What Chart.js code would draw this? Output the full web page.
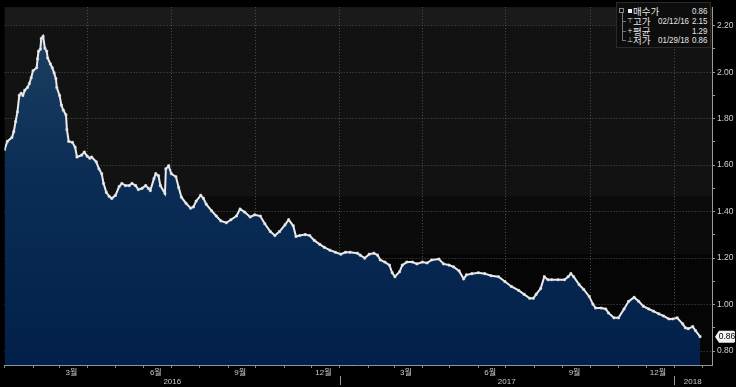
<!DOCTYPE html>
<html>
<head>
<meta charset="utf-8">
<script src="https://cdn.jsdelivr.net/npm/chart.js@4.4.0/dist/chart.umd.min.js"></script>
<style>
  html, body { margin: 0; padding: 0; background: #000; }
  #wrap { position: relative; width: 736px; height: 387px; }
  #legendBox {
    position: absolute; left: 616px; top: 2px; width: 95px; height: 46px;
    background: #0d0d0d; border: 1px solid #2a2a2a; box-sizing: border-box;
    font-family: "Liberation Sans", Arial, sans-serif;
    font-size: 9.5px; color: #e4e4e4;
  }
  .row { position: absolute; left: 0; right: 0; height: 10px; line-height: 10px; white-space: nowrap; }
  .sym { position: absolute; left: 10px; width: 6px; text-align: center; font-family: "DejaVu Sans", sans-serif; font-size: 7px; color: #ddd; }
  .name { position: absolute; left: 16px; top: 0; font-family: "Noto Sans CJK KR", sans-serif; font-size: 9.5px; line-height: 10px; }
  .date { position: absolute; left: 41px; transform: scaleX(0.84); transform-origin: left center; }
  .val { position: absolute; right: 3px; transform: scaleX(0.84); transform-origin: right center; }
  #treeV { position: absolute; left: 5px; top: 10px; width: 1px; height: 28px; background: #777; }
  .treeH { position: absolute; left: 5px; width: 4px; height: 1px; background: #777; }
  #boxIcon { position: absolute; left: 2px; top: 5px; width: 5px; height: 5px; border: 1px solid #888; box-sizing: border-box; }
  #fillIcon { position: absolute; left: 11px; top: 6px; width: 4px; height: 4px; background: #eee; }
</style>
</head>
<body>
<div id="wrap">
  <canvas id="rateChart" width="736" height="387"></canvas>
  <div id="legendBox">
    <div id="treeV"></div>
    <div class="treeH" style="top:18px"></div>
    <div class="treeH" style="top:28px"></div>
    <div class="treeH" style="top:37px"></div>
    <div id="boxIcon"></div>
    <div id="fillIcon"></div>
    <div class="row" style="top:3px"><span class="name">매수가</span><span class="val">0.86</span></div>
    <div class="row" style="top:13px"><span class="sym">⊤</span><span class="name">고가</span><span class="date">02/12/16</span><span class="val">2.15</span></div>
    <div class="row" style="top:23px"><span class="sym">+</span><span class="name">평균</span><span class="val">1.29</span></div>
    <div class="row" style="top:32px"><span class="sym">⊥</span><span class="name">저가</span><span class="date">01/29/18</span><span class="val">0.86</span></div>
  </div>
</div>
<script>
// days since 2016-01-01 and the value read for that day
const days = [0, 3, 8, 10, 12, 14, 16, 18, 20, 22, 25, 27, 29, 31, 35, 36, 37, 39, 40, 42,
  44, 46, 47, 50, 52, 54, 56, 57, 60, 62, 64, 67, 68, 70, 74, 77, 79, 84, 87, 90,
  93, 95, 100, 103, 106, 108, 111, 114, 117, 121, 125, 128, 132, 136, 139, 143, 146, 150, 154, 157,
  159, 163, 165, 168, 170, 175, 176, 179, 182, 187, 190, 193, 198, 203, 206, 209, 214, 217, 220, 226,
  231, 236, 242, 247, 253, 257, 262, 268, 273, 279, 284, 290, 295, 300, 306, 310, 315, 318, 322, 328,
  333, 338, 344, 349, 355, 361, 367, 372, 377, 385, 388, 393, 398, 403, 407, 410, 415, 420, 423, 426,
  431, 434, 439, 445, 450, 456, 461, 466, 474, 479, 485, 490, 496, 501, 504, 510, 517, 524, 531, 539,
  546, 553, 561, 567, 573, 577, 580, 585, 589, 593, 597, 604, 611, 615, 618, 621, 627, 632, 638, 642,
  645, 651, 656, 659, 665, 670, 676, 681, 687, 692, 697, 703, 708, 714, 719, 725, 729, 734, 740, 743,
  746, 751, 754, 759];
const values = [1.668, 1.702, 1.719, 1.744, 1.787, 1.829, 1.900, 1.909, 1.900, 1.922, 1.934, 1.951, 1.976, 2.006, 2.019, 2.057, 2.090, 2.099, 2.145, 2.154,
  2.103, 2.090, 2.061, 2.035, 2.019, 1.997, 1.972, 1.934, 1.900, 1.858, 1.837, 1.816, 1.753, 1.702, 1.698, 1.677, 1.635, 1.643, 1.656, 1.639,
  1.630, 1.635, 1.614, 1.584, 1.563, 1.521, 1.483, 1.466, 1.457, 1.470, 1.508, 1.521, 1.512, 1.512, 1.521, 1.512, 1.495, 1.500, 1.512, 1.500,
  1.491, 1.542, 1.563, 1.554, 1.512, 1.478, 1.584, 1.597, 1.563, 1.550, 1.504, 1.462, 1.436, 1.415, 1.420, 1.445, 1.470, 1.457, 1.432, 1.403,
  1.381, 1.360, 1.352, 1.365, 1.381, 1.411, 1.398, 1.377, 1.386, 1.381, 1.348, 1.314, 1.297, 1.314, 1.343, 1.365, 1.339, 1.293, 1.297, 1.301,
  1.297, 1.276, 1.259, 1.246, 1.234, 1.225, 1.217, 1.225, 1.225, 1.221, 1.213, 1.200, 1.217, 1.221, 1.213, 1.192, 1.183, 1.170, 1.137, 1.120,
  1.141, 1.170, 1.183, 1.183, 1.175, 1.183, 1.179, 1.192, 1.196, 1.175, 1.170, 1.162, 1.145, 1.111, 1.128, 1.133, 1.137, 1.133, 1.124, 1.120,
  1.099, 1.078, 1.061, 1.044, 1.027, 1.027, 1.044, 1.069, 1.120, 1.107, 1.107, 1.107, 1.107, 1.120, 1.133, 1.120, 1.086, 1.065, 1.035, 1.002,
  0.985, 0.985, 0.981, 0.964, 0.943, 0.943, 0.981, 1.014, 1.031, 1.014, 0.993, 0.981, 0.972, 0.960, 0.951, 0.938, 0.938, 0.943, 0.917, 0.900,
  0.896, 0.905, 0.888, 0.862];

// axis ticks
const yTicks = [0.8, 0.9, 1.0, 1.1, 1.2, 1.3, 1.4, 1.5, 1.6, 1.7, 1.8, 1.9, 2.0, 2.1, 2.2];
const monthStartDays = [0, 31, 60, 91, 121, 152, 182, 213, 244, 274, 305, 335, 366, 397, 425, 456, 486, 517, 547, 578, 609, 639, 670, 700, 731, 762];
const quarterStartDays = [91, 182, 274, 366, 456, 547, 639, 731];
const monthTickDays = [73, 165, 257, 348, 438, 530, 622, 713];
const monthTickLabels = ['3월', '6월', '9월', '12월', '3월', '6월', '9월', '12월'];
const yearTickDays = [183, 548, 751];
const yearTickLabels = ['2016', '2017', '2018'];
const yearStartDays = [366, 731];

const axisFont = "'Liberation Sans', 'Noto Sans CJK KR', sans-serif";

// bloomberg-ish stepped background
const bgPlugin = {
  id: 'bg',
  beforeDraw(chart) {
    const { ctx, chartArea: a } = chart;
    ctx.save();
    ctx.fillStyle = '#000';
    ctx.fillRect(0, 0, chart.width, chart.height);
    const h = a.bottom - a.top;
    const bands = [[0, 0.05, '#1a1a1a'], [0.05, 0.53, '#121212'], [0.53, 0.69, '#0b0b0b'], [0.69, 1, '#050505']];
    bands.forEach(b => {
      ctx.fillStyle = b[2];
      ctx.fillRect(a.left, a.top + b[0] * h, a.right - a.left, (b[1] - b[0]) * h);
    });
    ctx.restore();
  },
  afterDraw(chart) {
    const { ctx } = chart;
    const x2 = chart.scales.x2;
    const xs = chart.scales.x;
    const ys = chart.scales.y;
    ctx.save();
    // year dividers
    ctx.strokeStyle = '#9a9a9a';
    ctx.lineWidth = 1;
    yearStartDays.forEach(d => {
      const px = Math.round(x2.getPixelForValue(d)) + 0.5;
      ctx.beginPath();
      ctx.moveTo(px, xs.bottom - 1);
      ctx.lineTo(px, chart.height - 2);
      ctx.stroke();
    });
    // last value tag
    const last = values[values.length - 1];
    const py = ys.getPixelForValue(last);
    const left = ys.left + 3;
    ctx.fillStyle = '#f2f2f2';
    ctx.beginPath();
    ctx.moveTo(left, py);
    ctx.lineTo(left + 4, py - 6);
    ctx.lineTo(chart.width - 2, py - 6);
    ctx.lineTo(chart.width - 1, py - 5);
    ctx.lineTo(chart.width - 1, py + 5);
    ctx.lineTo(chart.width - 2, py + 6);
    ctx.lineTo(left + 4, py + 6);
    ctx.closePath();
    ctx.fill();
    ctx.fillStyle = '#000';
    ctx.font = '8.5px ' + axisFont;
    ctx.textAlign = 'center';
    ctx.textBaseline = 'middle';
    ctx.fillText(last.toFixed(2), (left + 4 + chart.width - 1) / 2, py + 0.5);
    ctx.restore();
  }
};

function makeChart() {
  const ctx = document.getElementById('rateChart').getContext('2d');

  new Chart(ctx, {
    type: 'line',
    data: {
      datasets: [{
        label: '매수가',
        data: days.map((d, i) => ({ x: d, y: values[i] })),
        borderColor: '#ececec',
        borderWidth: 2,
        tension: 0,
        fill: 'start',
        backgroundColor: function (context) {
          const area = context.chart.chartArea;
          if (!area) return '#0a2a52';
          const g = context.chart.ctx.createLinearGradient(0, area.top + 20, 0, area.bottom);
          g.addColorStop(0, '#1c3f62');
          g.addColorStop(0.45, '#0b2d55');
          g.addColorStop(1, '#02204a');
          return g;
        },
        pointStyle: 'rect',
        pointRadius: 1.5,
        pointBackgroundColor: '#ffffff',
        pointBorderColor: '#cfcfcf',
        pointBorderWidth: 0.6,
      }],
    },
    options: {
      responsive: false,
      animation: false,
      layout: { padding: 0 },
      plugins: { legend: { display: false }, tooltip: { enabled: false } },
      scales: {
        x: {
          type: 'linear',
          position: 'bottom',
          weight: 0,
          min: 0,
          max: 772,
          afterBuildTicks: scale => {
            const all = monthStartDays.concat(monthTickDays).sort((a, b) => a - b);
            scale.ticks = all.map(v => ({ value: v }));
          },
          afterFit: scale => { scale.height = 12; },
          grid: {
            color: c => (c.tick && quarterStartDays.includes(c.tick.value)) ? '#505050' : 'rgba(0,0,0,0)',
            tickColor: c => (c.tick && monthStartDays.includes(c.tick.value)) ? '#8a8a8a' : 'rgba(0,0,0,0)',
            tickLength: 3,
            lineWidth: 1,
          },
          border: { color: '#8c96a3', width: 1, dash: [1, 2] },
          ticks: {
            autoSkip: false,
            maxRotation: 0,
            padding: 0,
            color: '#c8c8c8',
            font: { family: axisFont, size: 8 },
            callback: v => {
              const i = monthTickDays.indexOf(v);
              return i >= 0 ? monthTickLabels[i] : '';
            },
          },
        },
        x2: {
          type: 'linear',
          position: 'bottom',
          weight: 1,
          min: 0,
          max: 772,
          afterBuildTicks: scale => {
            scale.ticks = yearTickDays.map(v => ({ value: v }));
          },
          afterFit: scale => { scale.height = 10; },
          grid: { display: false, drawTicks: false },
          border: { display: false },
          ticks: {
            autoSkip: false,
            maxRotation: 0,
            padding: 0,
            color: '#c8c8c8',
            font: { family: axisFont, size: 8 },
            callback: v => {
              const i = yearTickDays.indexOf(v);
              return i >= 0 ? yearTickLabels[i] : '';
            },
          },
        },
        y: {
          position: 'right',
          min: 0.74,
          max: 2.28,
          afterBuildTicks: scale => {
            scale.ticks = yTicks.map(v => ({ value: v }));
          },
          afterFit: scale => { scale.width = 24; },
          grid: {
            color: c => (c.tick && Math.round(c.tick.value * 10) % 2 === 0) ? '#505050' : 'rgba(0,0,0,0)',
            tickColor: '#9a9a9a',
            tickLength: 3,
            lineWidth: 1,
          },
          border: { color: '#9a9a9a', width: 1, dash: [1, 2] },
          ticks: {
            padding: 2,
            color: '#cfcfcf',
            font: { family: axisFont, size: 8.5 },
            callback: v => (Math.round(v * 10) % 2 === 0) ? v.toFixed(2) : '',
          },
        },
      },
    },
    plugins: [bgPlugin],
  });
}

makeChart();
</script>
</body>
</html>
